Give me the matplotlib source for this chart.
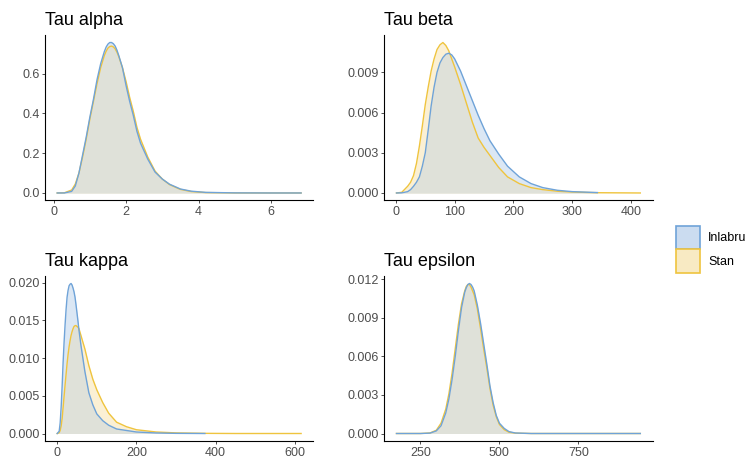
import numpy as np
import matplotlib
matplotlib.use('Agg')
import matplotlib.pyplot as plt
from matplotlib.patches import Patch

plt.rcParams['font.family'] = ['Liberation Sans', 'DejaVu Sans']

# ---------------- data ----------------
series_names = ['Inlabru', 'Stan']
panel_titles = ['Tau alpha', 'Tau beta', 'Tau kappa', 'Tau epsilon']

alpha_x = [0.1, 0.3, 0.5, 0.6, 0.7, 0.8, 0.9, 1.0, 1.1, 1.2, 1.3, 1.4, 1.45, 1.5, 1.55, 1.6, 1.65,
           1.7, 1.75, 1.8, 1.9, 2.0, 2.1, 2.2, 2.3, 2.4, 2.6, 2.8, 3.0, 3.2, 3.5, 3.8, 4.2, 5.0,
           6.0, 6.83]
alpha_inlabru = [0, 0.0, 0.008, 0.035, 0.10, 0.19, 0.28, 0.38, 0.47, 0.57, 0.65, 0.71, 0.733, 0.748,
                 0.756, 0.756, 0.750, 0.738, 0.717, 0.69, 0.63, 0.54, 0.46, 0.39, 0.31, 0.25, 0.17,
                 0.105, 0.07, 0.044, 0.02, 0.009, 0.003, 0.0005, 0, 0]
alpha_stan = [0, 0.001, 0.015, 0.045, 0.10, 0.18, 0.27, 0.37, 0.46, 0.55, 0.63, 0.69, 0.712, 0.728,
              0.736, 0.738, 0.734, 0.724, 0.707, 0.685, 0.63, 0.56, 0.48, 0.41, 0.33, 0.27, 0.18,
              0.11, 0.07, 0.042, 0.018, 0.007, 0.002, 0.0003, 0, 0]

beta_x = [1, 10, 20, 25, 30, 35, 40, 45, 50, 55, 60, 65, 70, 75, 80, 85, 90, 95, 100, 110, 120,
          130, 140, 150, 160, 175, 190, 210, 230, 250, 275, 300, 343, 380, 416]
beta_inlabru = [0, 0.00001, 0.0001, 0.00025, 0.0005, 0.0008, 0.0012, 0.0020, 0.0030, 0.0047,
                0.0065, 0.0079, 0.0090, 0.0097, 0.0101, 0.01035, 0.01042, 0.0103, 0.0100, 0.0091,
                0.0080, 0.0069, 0.0058, 0.0048, 0.0039, 0.0029, 0.0020, 0.0012, 0.0007, 0.0004,
                0.0002, 0.0001, 0.00003, np.nan, np.nan]
beta_stan = [0, 0.00005, 0.0005, 0.0008, 0.0013, 0.0022, 0.0035, 0.0050, 0.0066, 0.0079, 0.0091,
             0.0100, 0.0107, 0.01105, 0.01122, 0.0110, 0.0106, 0.0100, 0.0094, 0.0081, 0.0067,
             0.0053, 0.0041, 0.0034, 0.0028, 0.0019, 0.0012, 0.0007, 0.0004, 0.00025, 0.00013,
             0.00007, 0.00002, 0.00001, 0]

kappa_x = [0, 5, 7.5, 10, 12.5, 15, 17.5, 20, 22.5, 25, 27.5, 30, 32.5, 35, 37.5, 40, 42.5, 45,
           47.5, 50, 52.5, 55, 60, 70, 80, 90, 100, 115, 130, 150, 175, 200, 250, 300, 373, 450,
           530, 616]
kappa_inlabru = [0, 0.0003, 0.0014, 0.0035, 0.0063, 0.0095, 0.0122, 0.0145, 0.0165, 0.0181, 0.0190,
                 0.0196, 0.0198, 0.0199, 0.0197, 0.0193, 0.0188, 0.0181, 0.0171, 0.0160, 0.0149,
                 0.0137, 0.0117, 0.0082, 0.0054, 0.0038, 0.0026, 0.0017, 0.0011, 0.0006, 0.0004,
                 0.0002, 0.00007, 0.00002, 0, np.nan, np.nan, np.nan]
kappa_stan = [0, 0.0001, 0.0004, 0.0010, 0.0020, 0.0035, 0.0050, 0.0065, 0.0079, 0.0093, 0.0105,
              0.0115, 0.0123, 0.0130, 0.0135, 0.0139, 0.0142, 0.0143, 0.01432, 0.0142, 0.0141,
              0.0139, 0.0130, 0.0112, 0.0090, 0.0072, 0.0058, 0.0041, 0.0027, 0.0015, 0.0009,
              0.0005, 0.0002, 0.00008, 0.00002, 0, 0, 0]

eps_x = [174, 250, 280, 300, 315, 330, 340, 350, 360, 370, 380, 390, 395, 400, 405, 410, 415,
         420, 430, 440, 450, 460, 470, 480, 490, 500, 515, 530, 550, 600, 700, 800, 946]
eps_inlabru = [0, 0, 0.00003, 0.0002, 0.0006, 0.0016, 0.0027, 0.0042, 0.0060, 0.0080, 0.0098,
               0.0110, 0.01135, 0.0116, 0.01168, 0.0116, 0.0114, 0.0111, 0.0100, 0.0086, 0.0070,
               0.0054, 0.0037, 0.0024, 0.0014, 0.0008, 0.0004, 0.00015, 0.00004, 0, 0, 0, 0]
eps_stan = [0, 0, 0.00004, 0.00025, 0.0008, 0.0019, 0.0031, 0.0047, 0.0066, 0.0085, 0.0101,
            0.0111, 0.01145, 0.0116, 0.0116, 0.0114, 0.0111, 0.0108, 0.0097, 0.0082, 0.0066,
            0.0051, 0.0035, 0.0022, 0.0013, 0.0007, 0.0003, 0.0001, 0.00003, 0, 0, 0, 0]

x_ticks = [[0, 2, 4, 6], [0, 100, 200, 300, 400], [0, 200, 400, 600], [250, 500, 750]]
y_ticks = [[0.0, 0.2, 0.4, 0.6], [0.0, 0.003, 0.006, 0.009],
           [0.0, 0.005, 0.010, 0.015, 0.020], [0.0, 0.003, 0.006, 0.009, 0.012]]
y_tick_labels = [['0.0', '0.2', '0.4', '0.6'], ['0.000', '0.003', '0.006', '0.009'],
                 ['0.000', '0.005', '0.010', '0.015', '0.020'],
                 ['0.000', '0.003', '0.006', '0.009', '0.012']]

panels = [(alpha_x, alpha_inlabru, alpha_stan), (beta_x, beta_inlabru, beta_stan),
          (kappa_x, kappa_inlabru, kappa_stan), (eps_x, eps_inlabru, eps_stan)]

# ---------------- style ----------------
W, H = 747, 462
blue_line = '#6fa3d8'
yellow_line = '#efc43e'
blue_fill = '#dbe7f4'
yellow_fill = '#fbf0d4'
overlap_fill = '#dfe1d9'
tick_col = '#4d4d4d'

# panel boxes in pixels: left, right, top, bottom
boxes = [(45, 313.3, 35, 200.5), (384.3, 652.5, 35, 200.5),
         (45, 313.3, 276, 441), (384.3, 652.5, 276, 441)]

fig = plt.figure(figsize=(W / 100, H / 100), dpi=100)

for i, (xs, yb, ys) in enumerate(panels):
    l, r, t, b = boxes[i]
    ax = fig.add_axes([l / W, 1 - b / H, (r - l) / W, (b - t) / H])
    x = np.array(xs, float)
    yb = np.array(yb, float)
    ys = np.array(ys, float)
    ax.fill_between(x, 0, yb, color=blue_fill, linewidth=0)
    ax.fill_between(x, 0, ys, color=yellow_fill, linewidth=0)
    ax.fill_between(x, 0, np.minimum(yb, ys), color=overlap_fill, linewidth=0)
    ax.plot(x, ys, color=yellow_line, lw=1.0, solid_joinstyle='round')
    ax.plot(x, yb, color=blue_line, lw=1.0, solid_joinstyle='round')

    xr = np.nanmax(x) - np.nanmin(x)
    ax.set_xlim(np.nanmin(x) - 0.05 * xr, np.nanmax(x) + 0.05 * xr)
    ymax = np.nanmax(np.concatenate([yb, ys]))
    ax.set_ylim(-0.05 * ymax, 1.05 * ymax)

    ax.set_xticks(x_ticks[i])
    ax.set_yticks(y_ticks[i])
    ax.set_yticklabels(y_tick_labels[i])
    for s in ['top', 'right']:
        ax.spines[s].set_visible(False)
    for s in ['left', 'bottom']:
        ax.spines[s].set_linewidth(0.8)
        ax.spines[s].set_color('black')
    ax.tick_params(axis='both', direction='out', length=2.5, width=0.6, color='#333333',
                   labelsize=9, labelcolor=tick_col, pad=1.5)
    ax.set_facecolor('white')
    ax.set_title(panel_titles[i], loc='left', fontsize=13, color='black', pad=7.5)

handles = [Patch(facecolor='#cbdcf0', edgecolor=blue_line, linewidth=1.2, label=series_names[0]),
           Patch(facecolor='#f8eac3', edgecolor=yellow_line, linewidth=1.2, label=series_names[1])]
fig.legend(handles=handles, loc='upper left', bbox_to_anchor=(676 / W, 1 - 225.5 / H),
           frameon=False, fontsize=9, handlelength=1.88, handleheight=2.52,
           borderpad=0, borderaxespad=0, labelspacing=0.0, handletextpad=0.7)

fig.savefig('out.png', dpi=100)
